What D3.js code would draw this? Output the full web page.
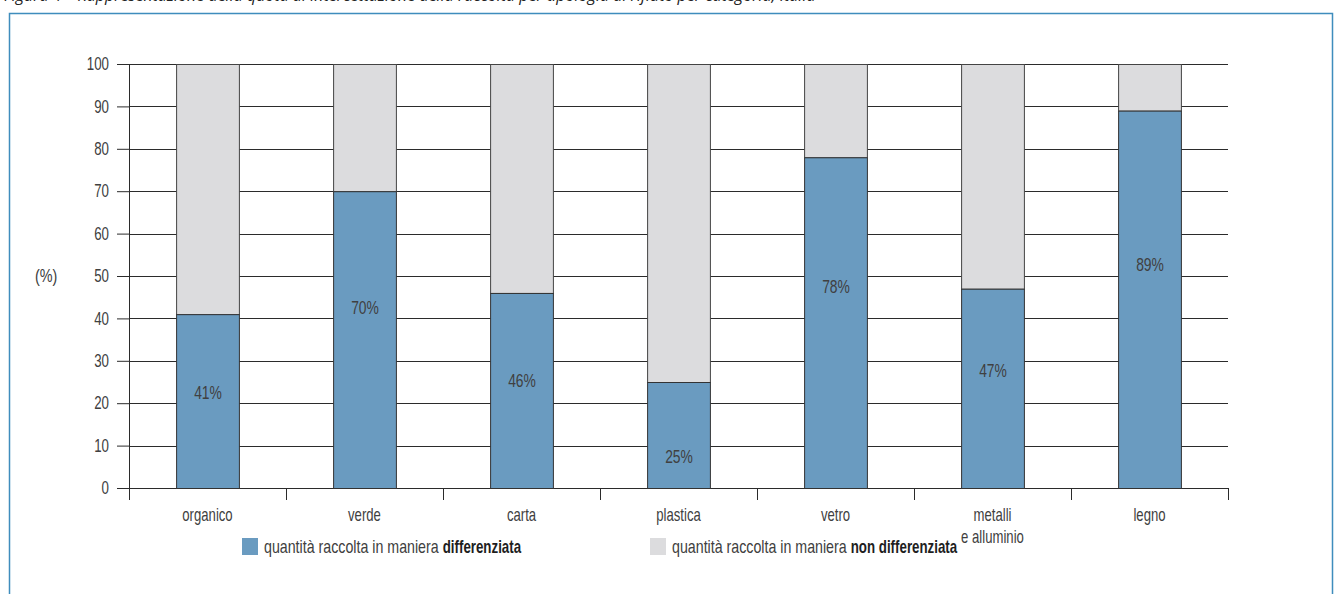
<!DOCTYPE html>
<html>
<head>
<meta charset="utf-8">
<script src="https://cdn.jsdelivr.net/npm/d3@7"></script>
<style>
  html, body { margin: 0; padding: 0; background: #fff; }
  svg { display: block; }
  text { font-family: "Liberation Sans", Arial, sans-serif; fill: #404040; }
</style>
</head>
<body>
<svg id="chart" width="1338" height="594"></svg>
<script>
// ---- data ----
const categories = ["organico", "verde", "carta", "plastica", "vetro", "metalli\ne alluminio", "legno"];
const differenziata = [41, 70, 46, 25, 78, 47, 89];
const nonDifferenziata = [59, 30, 54, 75, 22, 53, 11];
const valueLabels = ["41%", "70%", "46%", "25%", "78%", "47%", "89%"];
// where (in % units) each value label sits inside its bar
const labelAt = [22.6, 42.7, 25.5, 7.5, 47.6, 27.8, 52.8];
const yTicks = [0, 10, 20, 30, 40, 50, 60, 70, 80, 90, 100];
const legendLabels = [
  ["quantità raccolta in maniera", "differenziata"],
  ["quantità raccolta in maniera", "non differenziata"]
];
const titleText = "Figura 4 – Rappresentazione della quota di intercettazione della raccolta per tipologia di rifiuto per categoria, Italia";

// ---- layout ----
const svg = d3.select("#chart");
const colBlue = "#6a9bc0", colGrey = "#dcdcde", colLine = "#2b2b2b";
const plotL = 129, plotR = 1228, plotT = 64, plotB = 488;
const FS = "18px";

// condense text horizontally around its anchor x (mimic a condensed typeface); returns new width
function condense(sel, f) {
  let last = 0;
  sel.each(function () {
    const ax = +this.getAttribute("x") || 0;
    last = this.getComputedTextLength() * f;
    const prev = this.getAttribute("transform") || "";
    this.setAttribute("transform", `${prev} translate(${ax},0) scale(${f},1) translate(${-ax},0)`.trim());
  });
  return last;
}

const x = d3.scaleBand().domain(categories).range([plotL, plotR]).paddingInner(0.6).paddingOuter(0.3);
const xb = d3.scaleBand().domain(categories).range([plotL, plotR]).padding(0);
const y = d3.scaleLinear().domain([0, 100]).range([plotB, plotT]);

// title (clipped at top, as in the source)
svg.append("text").attr("x", 4).attr("y", 1)
  .style("font-family", "'Open Sans', 'DejaVu Sans', sans-serif")
  .style("font-style", "italic").style("font-size", "16px").style("fill", "#222")
  .text(titleText);

// frame
svg.append("path")
  .attr("d", `M9.5,600 V13.5 H1332.5 V600`)
  .attr("fill", "none").attr("stroke", "#3f8dbd").attr("stroke-width", 1.5);

// y ticks
const yAxis = d3.axisLeft(y).tickValues(yTicks).tickSize(12).tickPadding(8).tickFormat(d3.format("d"));
const gy = svg.append("g").attr("transform", `translate(${plotL},0)`).call(yAxis);
gy.select(".domain").remove();
gy.selectAll(".tick line").attr("stroke", colLine);
gy.selectAll(".tick text").style("font-size", FS).style("font-family", "'Liberation Sans', Arial, sans-serif").attr("fill", "#404040");
condense(gy.selectAll(".tick text"), 0.74);

// gridlines
svg.append("g").selectAll("line").data(yTicks).join("line")
  .attr("x1", plotL).attr("x2", plotR)
  .attr("y1", d => Math.round(y(d)) + 0.5).attr("y2", d => Math.round(y(d)) + 0.5)
  .attr("stroke", colLine).attr("stroke-width", 1);

// y axis line
svg.append("line").attr("x1", plotL + 0.5).attr("x2", plotL + 0.5)
  .attr("y1", y(100)).attr("y2", plotB + 12).attr("stroke", colLine);

// x category boundary ticks
const bounds = categories.map(c => xb(c)).concat([plotR]);
svg.append("g").selectAll("line").data(bounds).join("line")
  .attr("x1", d => Math.round(d) + 0.5).attr("x2", d => Math.round(d) + 0.5)
  .attr("y1", plotB).attr("y2", plotB + 12).attr("stroke", colLine);

// bars
const rows = categories.map((c, i) => ({ c, d: differenziata[i], n: nonDifferenziata[i], lab: valueLabels[i], at: labelAt[i] }));
const g = svg.append("g");
g.selectAll("rect.nd").data(rows).join("rect").attr("class", "nd")
  .attr("x", r => x(r.c) + 0.5).attr("width", x.bandwidth())
  .attr("y", r => y(r.d + r.n) + 0.5).attr("height", r => y(r.d) - y(r.d + r.n))
  .attr("fill", colGrey).attr("stroke", "#444").attr("stroke-width", 1);
g.selectAll("rect.d").data(rows).join("rect").attr("class", "d")
  .attr("x", r => x(r.c) + 0.5).attr("width", x.bandwidth())
  .attr("y", r => y(r.d) + 0.5).attr("height", r => y(0) - y(r.d))
  .attr("fill", colBlue).attr("stroke", "#333").attr("stroke-width", 1);

// value labels
const vl = g.selectAll("text.v").data(rows).join("text").attr("class", "v")
  .attr("x", r => x(r.c) + x.bandwidth() / 2 + 0.5).attr("y", r => y(r.at))
  .attr("text-anchor", "middle").attr("dominant-baseline", "central")
  .style("font-size", FS).text(r => r.lab);
condense(vl, 0.77);

// category labels
const cl = svg.append("g").selectAll("text").data(categories).join("text")
  .attr("x", c => x(c) + x.bandwidth() / 2).attr("y", plotB + 33)
  .attr("text-anchor", "middle").style("font-size", FS);
cl.each(function (c) {
  const lines = c.split("\n");
  d3.select(this).selectAll("tspan").data(lines).join("tspan")
    .attr("x", x(c) + x.bandwidth() / 2).attr("dy", (l, i) => i === 0 ? 0 : 22).text(l => l);
});
condense(cl, 0.73);

// (%)
const pct = svg.append("text").attr("x", 35).attr("y", 282).style("font-size", FS).text("(%)");
condense(pct, 0.8);

// legend
const legendX = [242, 650];
const legendCol = [colBlue, colGrey];
legendLabels.forEach((lab, i) => {
  svg.append("rect").attr("x", legendX[i]).attr("y", 538).attr("width", 16).attr("height", 17).attr("fill", legendCol[i]);
  const tx = legendX[i] + 22;
  const t1 = svg.append("text").attr("x", tx).attr("y", 553).style("font-size", FS).text(lab[0]);
  const w1 = condense(t1, 0.79);
  const t2 = svg.append("text").attr("x", tx + w1 + 4).attr("y", 553).style("font-size", FS)
    .style("font-weight", "bold").style("fill", "#1e1e1e").text(lab[1]);
  condense(t2, 0.74);
});
</script>
</body>
</html>
